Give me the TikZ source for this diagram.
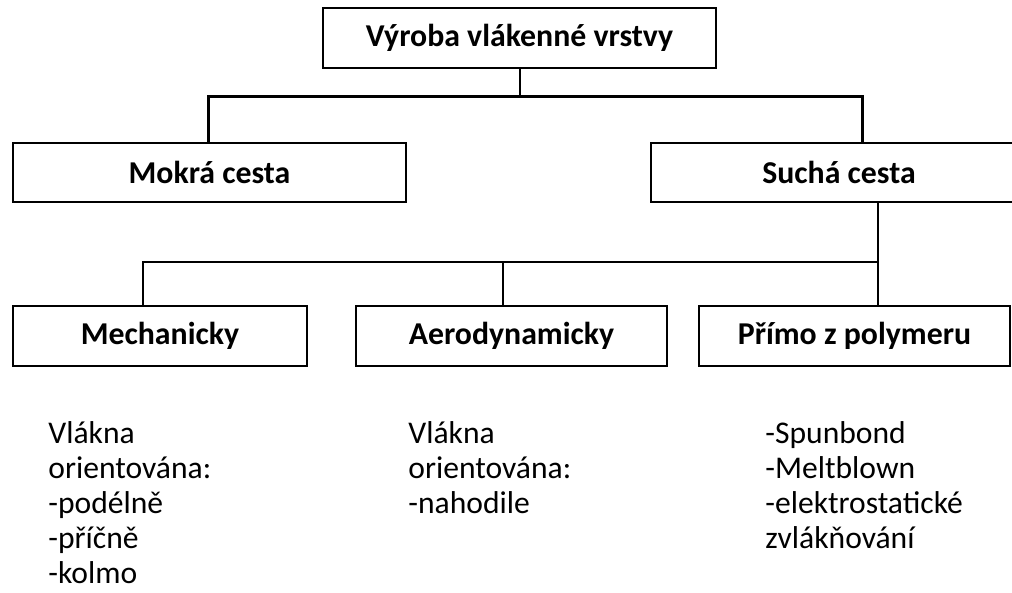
\documentclass[tikz,border=0pt]{standalone}
\usepackage{fontspec}
\setmainfont{Carlito}

\begin{document}
\begin{tikzpicture}[x=0.5pt, y=-0.5pt,
    box/.style={draw, line width=1pt, inner sep=0pt, minimum height=30pt,
      font=\fontsize{15.9}{18}\selectfont\bfseries},
    conn/.style={line width=1pt},
    bus/.style={line width=1.5pt},
    note/.style={anchor=base west, inner sep=0pt, align=left,
      font=\fontsize{15.8}{17.5}\selectfont}]

    \useasboundingbox (0,0) rectangle (1012,593);

    \node[box, minimum width=196.5pt] (vyroba) at (519.5,38) {Výroba vlákenné vrstvy};
    \node[box, minimum width=196.5pt, minimum height=29.5pt] (mokra) at (209.5,172.5) {Mokrá cesta};
    \node[box, minimum width=188pt, minimum height=29.5pt] (sucha) at (839,172.5) {Suchá cesta};

    \node[box, minimum width=147pt] (mech) at (160,336) {Mechanicky};
    \node[box, minimum width=155.5pt] (aero) at (511.5,336) {Aerodynamicky};
    \node[box, minimum width=155.5pt] (primo) at (854.5,336) {Přímo z polymeru};

    \coordinate (jt) at (520,97);
    \coordinate (jm) at (208,97);
    \coordinate (js) at (862,97);
    \draw[conn] (vyroba.south -| jt) -- (jt);
    \draw[bus] (mokra.north -| jm) -- (jm) -- (js) -- (sucha.north -| js);

    \coordinate (k0) at (878,262);
    \coordinate (k1) at (143,262);
    \coordinate (k2) at (503,262);
    \draw[conn] (sucha.south -| k0) -- (k0) -- (k1) -- (mech.north -| k1);
    \draw[conn] (k2) -- (aero.north -| k2);
    \draw[conn] (primo.north -| k0) -- (k0);

    % base anchor sits on the last line
    \node[note] (mechtext) at (48,583) {Vlákna\\orientována:\\-podélně\\-příčně\\-kolmo};
    \node[note] (aerotext) at (408,513) {Vlákna\\orientována:\\-nahodile};
    \node[note] (primotext) at (765,548) {-Spunbond\\-Meltblown\\-elektrostatické\\zvlákňování};

\end{tikzpicture}
\end{document}
